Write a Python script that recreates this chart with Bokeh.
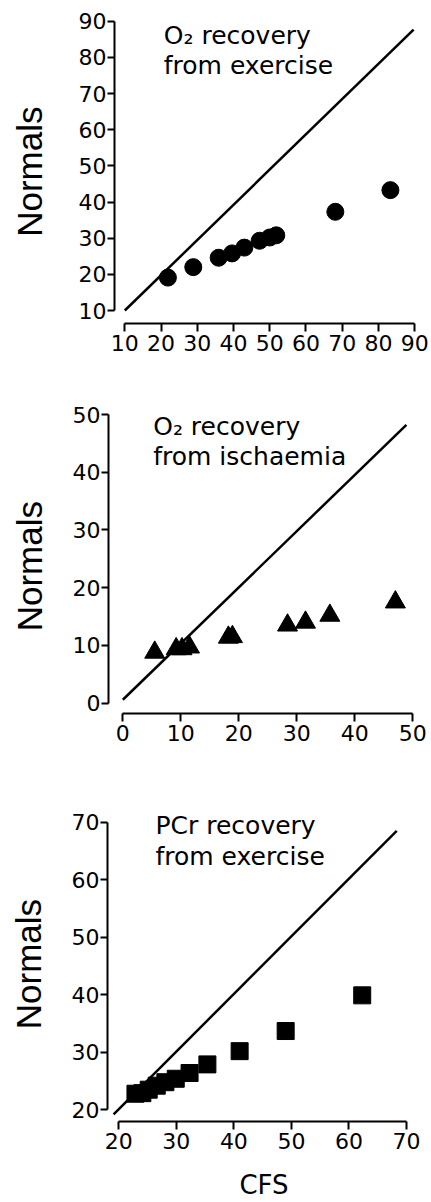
import math
from bokeh.plotting import figure
from bokeh.layouts import column, row
from bokeh.models import FixedTicker, Label, Range1d
from bokeh.embed import file_html
from bokeh.resources import INLINE

# ---------------- data ----------------
# Panel 1: O2 recovery from exercise
ex_cfs = [21.9, 28.9, 35.9, 39.6, 43.0, 47.2, 50.0, 51.8, 68.1, 83.3]
ex_norm = [19.1, 22.0, 24.6, 25.8, 27.4, 29.3, 30.2, 30.8, 37.3, 43.3]
ex_line_x = [10, 89.7]
ex_line_y = [10, 87.7]
ex_ticks = [10, 20, 30, 40, 50, 60, 70, 80, 90]
ex_title = ["O\u2082 recovery", "from exercise"]

# Panel 2: O2 recovery from ischaemia
isch_cfs = [5.5, 9.2, 10.2, 11.5, 18.2, 18.9, 28.4, 31.5, 35.7, 47.0]
isch_norm = [8.8, 9.4, 9.4, 9.7, 11.4, 11.5, 13.5, 14.0, 15.2, 17.5]
isch_line_x = [0, 48.9]
isch_line_y = [0.6, 48.2]
isch_ticks = [0, 10, 20, 30, 40, 50]
isch_title = ["O\u2082 recovery", "from ischaemia"]

# Panel 3: PCr recovery from exercise
pcr_cfs = [22.9, 24.1, 25.2, 26.6, 28.1, 29.9, 32.3, 35.4, 41.0, 49.0, 62.3]
pcr_norm = [22.8, 22.9, 23.5, 24.2, 24.8, 25.4, 26.4, 27.9, 30.2, 33.7, 39.9]
pcr_line_x = [19.1, 68.3]
pcr_line_y = [19.2, 68.5]
pcr_ticks = [20, 30, 40, 50, 60, 70]
pcr_title = ["PCr recovery", "from exercise"]

y_label = "Normals"
x_label = "CFS"

TICK_FONT = "DejaVu Sans"
TITLE_FONT = "DejaVu Sans"
YLAB_FONT = "Liberation Sans"
LAB_W = 56


def panel(xr, yr, ticks, fw, fh, bl, bt, bb, xlabel=None):
    p = figure(output_backend="svg", toolbar_location=None,
               x_range=Range1d(*xr), y_range=Range1d(*yr),
               frame_width=fw, frame_height=fh,
               min_border_left=bl, min_border_right=9,
               min_border_top=bt, min_border_bottom=bb)
    p.outline_line_color = None
    p.xgrid.visible = False
    p.ygrid.visible = False
    p.background_fill_color = "white"
    p.border_fill_color = "white"
    for ax in (p.xaxis[0], p.yaxis[0]):
        ax.ticker = FixedTicker(ticks=ticks)
        ax.bounds = (ticks[0], ticks[-1])
        ax.axis_line_width = 2
        ax.axis_line_color = "black"
        ax.major_tick_line_width = 2
        ax.major_tick_line_color = "black"
        ax.major_tick_out = 8
        ax.major_tick_in = 0
        ax.minor_tick_line_color = None
        ax.major_label_text_font = TICK_FONT
        ax.major_label_text_font_size = "22px"
        ax.major_label_text_color = "black"
    p.xaxis.major_label_standoff = 3
    p.yaxis.major_tick_out = 7
    p.yaxis.major_label_standoff = 1
    if xlabel:
        p.xaxis.axis_label = xlabel
        p.xaxis.axis_label_text_font = TICK_FONT
        p.xaxis.axis_label_text_font_size = "26px"
        p.xaxis.axis_label_text_font_style = "normal"
        p.xaxis.axis_label_text_color = "black"
        p.xaxis.axis_label_standoff = 18
    return p


def label_strip(height, mid_x, center_y):
    # narrow strip holding the rotated "Normals" axis title (pixel coordinates)
    s = figure(output_backend="svg", toolbar_location=None,
               width=LAB_W, height=height,
               x_range=Range1d(0, LAB_W), y_range=Range1d(0, height),
               x_axis_location=None, y_axis_location=None,
               min_border=0)
    s.outline_line_color = None
    s.xgrid.visible = False
    s.ygrid.visible = False
    s.border_fill_color = "white"
    s.add_layout(Label(x=mid_x, y=height - center_y, text=y_label,
                       text_font=YLAB_FONT, text_font_size="35px",
                       text_color="black", angle=math.pi / 2,
                       text_align="center", text_baseline="alphabetic"))
    return s


def titles(p, lines, x, y1, y2):
    for txt, yy in zip(lines, (y1, y2)):
        p.add_layout(Label(x=x, y=yy, text=txt, text_font=TITLE_FONT,
                           text_font_size="25px", text_color="black",
                           text_baseline="alphabetic", text_align="left"))


# Panel 1 (figure height 15 + 308 + 38 = 361)
p1 = panel((7.16, 91.6), (6.41, 91.6), ex_ticks, 306, 308, 114 - LAB_W, 15, 38)
p1.line(ex_line_x, ex_line_y, line_width=2.5, color="black")
p1.scatter(ex_cfs, ex_norm, marker="circle", size=17, color="black")
titles(p1, ex_title, 20.76, 86.0, 77.7)
s1 = label_strip(361, 29.0, 183.0)

# Panel 2 (figure height 44 + 308 + 38 = 390)
p2 = panel((-2.47, 51.33), (-1.78, 51.56), isch_ticks, 312, 308, 108 - LAB_W, 44, 38)
p2.line(isch_line_x, isch_line_y, line_width=2.5, color="black")
p2.scatter(isch_cfs, isch_norm, marker="triangle", size=20, color="black")
titles(p2, isch_title, 5.24, 47.9, 42.7)
s2 = label_strip(390, 28.7, 564.5 - 361)

# Panel 3 (figure height 61 + 309 + 80 = 450)
p3 = panel((18.04, 72.43), (17.97, 71.69), pcr_ticks, 313, 309, 107 - LAB_W, 61, 80, x_label)
p3.line(pcr_line_x, pcr_line_y, line_width=2.5, color="black")
p3.scatter(pcr_cfs, pcr_norm, marker="square", size=17, color="black")
titles(p3, pcr_title, 26.38, 69.5, 64.0)
s3 = label_strip(450, 27.7, 972.5 - 751)

layout = column(row(s1, p1, spacing=0), row(s2, p2, spacing=0),
                row(s3, p3, spacing=0), spacing=0)
open("out.html", "w").write(file_html(layout, INLINE))
